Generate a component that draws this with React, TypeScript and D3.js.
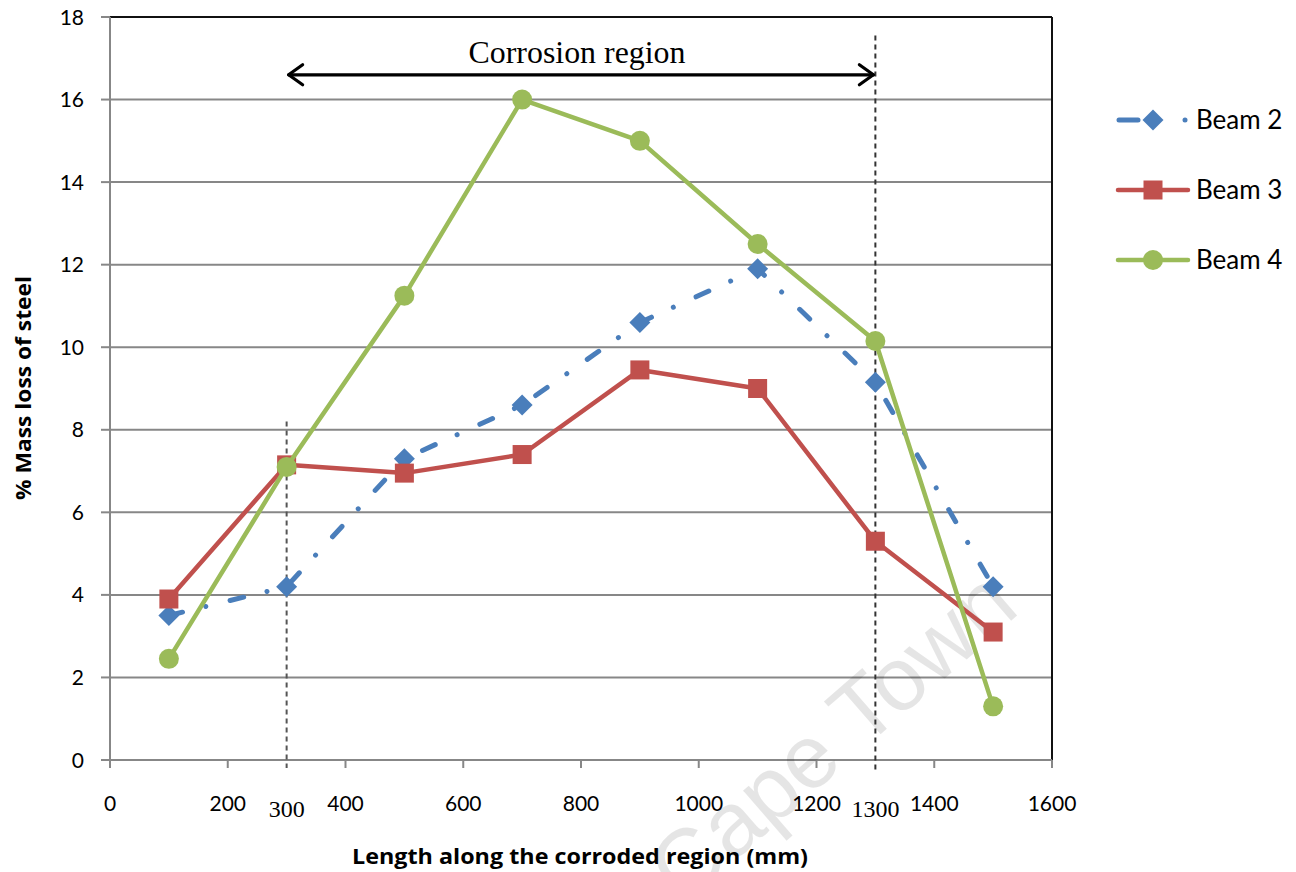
import React from "react";
import * as d3 from "d3";

// Measurement positions along the beam (mm)
const positions = [100, 300, 500, 700, 900, 1100, 1300, 1500];

// % mass loss of steel per beam
const beam2 = [3.5, 4.2, 7.3, 8.6, 10.6, 11.9, 9.15, 4.2];
const beam3 = [3.9, 7.15, 6.95, 7.4, 9.45, 9.0, 5.3, 3.1];
const beam4 = [2.45, 7.1, 11.25, 16.0, 15.0, 12.5, 10.15, 1.3];

const xTicks = [0, 200, 400, 600, 800, 1000, 1200, 1400, 1600];
const yTicks = [0, 2, 4, 6, 8, 10, 12, 14, 16, 18];

// Corrosion region bounds and annotation levels
const regionStart = 300;
const regionEnd = 1300;
const regionStartTop = 8.2;
const regionEndTop = 17.55;
const arrowLevel = 16.6;

const W = 1296;
const H = 872;

const x = d3.scaleLinear().domain([0, 1600]).range([110, 1052]);
const y = d3.scaleLinear().domain([0, 18]).range([760, 17]);

const BLUE = "#4A7EBB";
const RED = "#C0504D";
const GREEN = "#9BBB59";
const GRID = "#878787";
const SANS = "Lato, 'Open Sans', sans-serif";
const TITLE = "'Open Sans', Lato, sans-serif";
const SERIF = "'Liberation Serif', 'Times New Roman', serif";

type Series = { name: string; values: number[]; color: string; marker: "diamond" | "square" | "circle"; dash?: string };

const series: Series[] = [
  { name: "Beam 2", values: beam2, color: BLUE, marker: "diamond", dash: "14 24 0.01 25" },
  { name: "Beam 3", values: beam3, color: RED, marker: "square" },
  { name: "Beam 4", values: beam4, color: GREEN, marker: "circle" },
];

function Marker({ kind, cx, cy, color }: { kind: Series["marker"]; cx: number; cy: number; color: string }) {
  if (kind === "diamond") {
    const r = 10.5;
    return <path d={`M${cx},${cy - r}L${cx + r},${cy}L${cx},${cy + r}L${cx - r},${cy}Z`} fill={color} />;
  }
  if (kind === "square") {
    const s = 19;
    return <rect x={cx - s / 2} y={cy - s / 2} width={s} height={s} fill={color} />;
  }
  return <circle cx={cx} cy={cy} r={10} fill={color} />;
}

export default function App() {
  const line = d3
    .line<[number, number]>()
    .x((d) => x(d[0]))
    .y((d) => y(d[1]));

  const legendY = [120, 190, 260];

  const arrowY = y(arrowLevel);
  const ax0 = x(regionStart);
  const ax1 = x(regionEnd);

  return (
    <svg
      width={W}
      height={H}
      style={{ position: "absolute", left: 0, top: 0, background: "#fff" }}
    >
      {/* horizontal gridlines */}
      {yTicks.map((t) => (
        <line key={t} x1={x(0)} x2={x(1600)} y1={y(t)} y2={y(t)} stroke={t === 18 ? "#111" : GRID} strokeWidth={2} />
      ))}
      {/* right border */}
      <line x1={x(1600)} x2={x(1600)} y1={y(18)} y2={y(0)} stroke="#111" strokeWidth={2} />
      {/* y axis */}
      <line x1={x(0)} x2={x(0)} y1={y(18)} y2={y(0)} stroke={GRID} strokeWidth={2} />
      {yTicks.map((t) => (
        <g key={t}>
          <line x1={x(0) - 9} x2={x(0)} y1={y(t)} y2={y(t)} stroke={GRID} strokeWidth={2} />
          <text x={84} y={y(t)} dy="0.36em" textAnchor="end" fontFamily={SANS} fontSize={21} fill="#000">
            {t}
          </text>
        </g>
      ))}
      {/* x axis */}
      <line x1={x(0)} x2={x(1600)} y1={y(0)} y2={y(0)} stroke={GRID} strokeWidth={2} />
      {xTicks.map((t) => (
        <g key={t}>
          <line x1={x(t)} x2={x(t)} y1={y(0)} y2={y(0) + 8} stroke={GRID} strokeWidth={2} />
          <text x={x(t)} y={811} textAnchor="middle" fontFamily={SANS} fontSize={21} fill="#000">
            {t}
          </text>
        </g>
      ))}

      {/* watermark */}
      <text
        transform="translate(683,906) rotate(-41)"
        fontFamily="'Liberation Sans', Arial, sans-serif"
        fontSize={90}
        fill="#000"
        fillOpacity={0.1}
      >
        Cape Town
      </text>

      {/* corrosion region bounds */}
      <line x1={x(regionStart)} x2={x(regionStart)} y1={y(regionStartTop)} y2={y(0) + 8} stroke="#555" strokeWidth={2} strokeDasharray="5 4" />
      <line x1={x(regionEnd)} x2={x(regionEnd)} y1={y(regionEndTop)} y2={y(0) + 10} stroke="#333" strokeWidth={2} strokeDasharray="5 4" />
      <text x={x(regionStart)} y={817} textAnchor="middle" fontFamily={SERIF} fontSize={24} fill="#000">
        {regionStart}
      </text>
      <text x={x(regionEnd)} y={817} textAnchor="middle" fontFamily={SERIF} fontSize={24} fill="#000">
        {regionEnd}
      </text>

      {/* corrosion region arrow */}
      <g stroke="#000" strokeWidth={3.2} fill="none" strokeLinecap="round" strokeLinejoin="round">
        <line x1={ax0 + 2} x2={ax1 - 2} y1={arrowY} y2={arrowY} />
        <polyline points={`${ax0 + 16},${arrowY - 10} ${ax0 + 2},${arrowY} ${ax0 + 16},${arrowY + 10}`} />
        <polyline points={`${ax1 - 16},${arrowY - 10} ${ax1 - 2},${arrowY} ${ax1 - 16},${arrowY + 10}`} />
      </g>
      <text
        x={577}
        y={63}
        textAnchor="middle"
        fontFamily={SERIF}
        fontSize={31}
        textLength={217}
        lengthAdjust="spacingAndGlyphs"
        fill="#000"
      >
        Corrosion region
      </text>

      {/* data series */}
      {series.map((s) => {
        const pts = positions.map((p, i) => [p, s.values[i]] as [number, number]);
        return (
          <g key={s.name}>
            <path
              d={line(pts) || ""}
              fill="none"
              stroke={s.color}
              strokeWidth={s.dash ? 5 : 4.5}
              strokeDasharray={s.dash}
              strokeLinecap={s.dash ? "round" : "butt"}
              strokeLinejoin="round"
            />
            {pts.map((d, i) => (
              <Marker key={i} kind={s.marker} cx={x(d[0])} cy={y(d[1])} color={s.color} />
            ))}
          </g>
        );
      })}

      {/* legend */}
      {series.map((s, i) => {
        const ly = legendY[i];
        return (
          <g key={s.name}>
            {s.dash ? (
              <g stroke={s.color} strokeWidth={5} strokeLinecap="round">
                <line x1={1119} x2={1138} y1={ly} y2={ly} />
                <line x1={1185} x2={1185.01} y1={ly} y2={ly} />
              </g>
            ) : (
              <line x1={1118} x2={1188} y1={ly} y2={ly} stroke={s.color} strokeWidth={4.5} strokeLinecap="round" />
            )}
            <Marker kind={s.marker} cx={1153} cy={ly} color={s.color} />
            <text x={1196} y={ly} dy="0.36em" fontFamily={SANS} fontSize={26} fill="#000">
              {s.name}
            </text>
          </g>
        );
      })}

      {/* axis titles */}
      <text x={580} y={864} textAnchor="middle" fontFamily={TITLE} fontWeight="bold" fontSize={21} textLength={456} lengthAdjust="spacingAndGlyphs" fill="#000">
        Length along the corroded region (mm)
      </text>
      <text
        transform={`translate(31,388) rotate(-90)`}
        textAnchor="middle"
        fontFamily={TITLE}
        fontWeight="bold"
        fontSize={21}
        textLength={224}
        lengthAdjust="spacingAndGlyphs"
        fill="#000"
      >
        % Mass loss of steel
      </text>
    </svg>
  );
}
